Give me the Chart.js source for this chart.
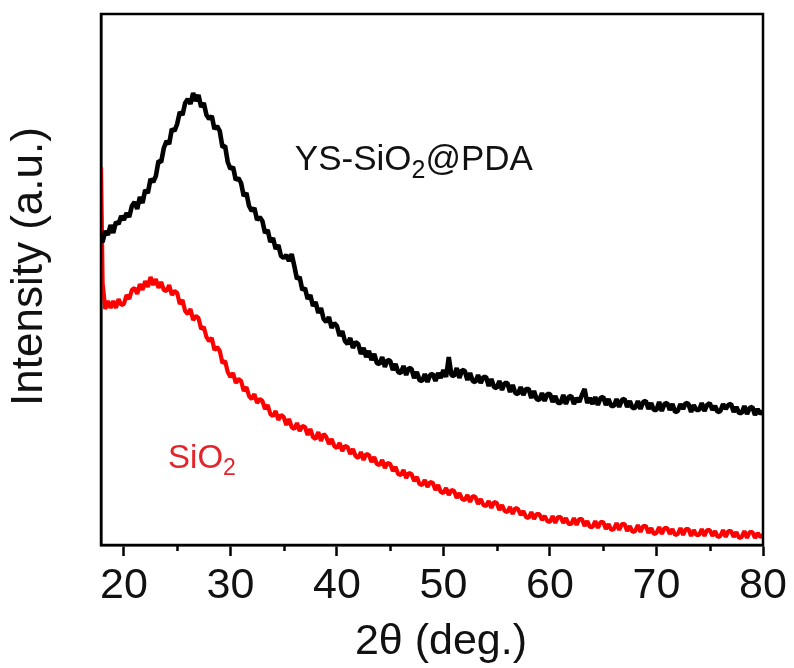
<!DOCTYPE html>
<html>
<head>
<meta charset="utf-8">
<script src="https://cdn.jsdelivr.net/npm/chart.js@4.4.1/dist/chart.umd.min.js"></script>
<style>
  html, body { margin: 0; padding: 0; background: #ffffff; }
  #wrap { width: 794px; height: 668px; }
</style>
</head>
<body>
<div id="wrap"><canvas id="xrd" width="794" height="668"></canvas></div>
<script>
// XRD scan grid: first recorded angle, then 0.25° steps from 18° to 80°
const scanStart = 17.85;
const scanFrom = 18;
const scanStep = 0.25;
const scanCount = 249;
const twoTheta = [scanStart].concat(Array.from({ length: scanCount }, (_, i) => scanFrom + i * scanStep));

// Intensity (a.u.) of the PDA-coated yolk–shell silica, one row per degree (x.00, x.25, x.50, x.75)
const ysSiO2PDA = [
  305,
  303, 314, 310, 320,   // 18
  312, 323, 321, 329,   // 19
  325, 332, 328, 339,   // 20
  343, 336, 348, 342,   // 21
  355, 352, 366, 363,   // 22
  369, 384, 383, 397,   // 23
  404, 401, 416, 414,   // 24
  421, 433, 430, 442,   // 25
  446, 441, 452, 444,   // 26
  450, 438, 442, 430,   // 27
  426, 429, 416, 419,   // 28
  414, 398, 399, 383,   // 29
  376, 378, 365, 367,   // 30
  362, 349, 352, 339,   // 31
  334, 337, 325, 328,   // 32
  324, 312, 315, 303,   // 33
  307, 296, 300, 289,   // 34
  287, 290, 284, 291,   // 35
  279, 266, 268, 255,   // 36
  257, 246, 250, 239,   // 37
  243, 232, 237, 226,   // 38
  223, 228, 217, 222,   // 39
  219, 209, 214, 204,   // 40
  201, 207, 197, 203,   // 41
  201, 191, 197, 188,   // 42
  194, 185, 191, 182,   // 43
  181, 188, 178, 185,   // 44
  184, 175, 181, 173,   // 45
  172, 179, 170, 177,   // 46
  176, 167, 173, 165,   // 47
  164, 171, 163, 170,   // 48
  171, 164, 172, 167,   // 49
  175, 168, 188, 170,   // 50
  169, 177, 167, 175,   // 51
  174, 165, 172, 164,   // 52
  163, 170, 162, 168,   // 53
  168, 159, 166, 158,   // 54
  157, 164, 155, 162,   // 55
  162, 153, 160, 152,   // 56
  151, 158, 150, 156,   // 57
  156, 147, 154, 146,   // 58
  145, 152, 144, 151,   // 59
  151, 143, 149, 142,   // 60
  142, 150, 141, 148,   // 61
  149, 141, 147, 143,   // 62
  150, 156, 142, 147,   // 63
  141, 148, 140, 147,   // 64
  148, 140, 146, 139,   // 65
  139, 146, 138, 145,   // 66
  146, 138, 144, 137,   // 67
  137, 144, 136, 143,   // 68
  144, 136, 142, 135,   // 69
  135, 143, 134, 141,   // 70
  142, 135, 141, 133,   // 71
  134, 141, 136, 142,   // 72
  141, 133, 140, 135,   // 73
  135, 142, 134, 140,   // 74
  142, 135, 139, 133,   // 75
  134, 141, 136, 140,   // 76
  141, 133, 138, 132,   // 77
  132, 139, 131, 137,   // 78
  138, 130, 136, 131,   // 79
  134                   // 80
];

// Intensity (a.u.) of the bare silica, same grid
const siO2 = [
  378,
  262, 236, 244, 237,   // 18
  244, 237, 246, 240,   // 19
  241, 250, 246, 255,   // 20
  257, 251, 261, 255,   // 21
  264, 258, 268, 260,   // 22
  266, 257, 263, 255,   // 23
  254, 260, 250, 254,   // 24
  252, 241, 245, 234,   // 25
  231, 236, 225, 229,   // 26
  227, 216, 218, 208,   // 27
  204, 207, 195, 198,   // 28
  194, 182, 184, 173,   // 29
  168, 172, 162, 166,   // 30
  164, 154, 158, 149,   // 31
  146, 151, 142, 146,   // 32
  144, 136, 140, 131,   // 33
  129, 134, 125, 130,   // 34
  128, 120, 126, 118,   // 35
  116, 122, 114, 119,   // 36
  118, 110, 116, 108,   // 37
  106, 113, 104, 111,   // 38
  108, 101, 106, 99,    // 39
  97, 102, 94, 99,      // 40
  98, 91, 96, 89,       // 41
  87, 93, 85, 91,       // 42
  90, 83, 88, 81,       // 43
  80, 85, 77, 82,       // 44
  81, 74, 78, 71,       // 45
  70, 75, 67, 72,       // 46
  71, 64, 68, 61,       // 47
  60, 65, 58, 63,       // 48
  62, 55, 60, 53,       // 49
  52, 57, 50, 55,       // 50
  54, 47, 52, 46,       // 51
  45, 50, 43, 49,       // 52
  48, 41, 46, 40,       // 53
  39, 44, 37, 43,       // 54
  42, 35, 40, 34,       // 55
  33, 38, 31, 37,       // 56
  36, 30, 34, 28,       // 57
  27, 33, 26, 31,       // 58
  31, 25, 29, 24,       // 59
  23, 29, 22, 28,       // 60
  28, 22, 27, 21,       // 61
  21, 27, 20, 26,       // 62
  26, 19, 24, 18,       // 63
  18, 24, 17, 23,       // 64
  23, 16, 21, 15,       // 65
  16, 22, 15, 21,       // 66
  21, 14, 19, 13,       // 67
  14, 20, 13, 19,       // 68
  19, 12, 17, 11,       // 69
  12, 18, 11, 17,       // 70
  17, 11, 16, 10,       // 71
  11, 17, 10, 16,       // 72
  16, 9, 15, 10,        // 73
  10, 16, 9, 15,        // 74
  15, 9, 14, 8,         // 75
  9, 15, 8, 14,         // 76
  14, 8, 13, 7,         // 77
  8, 14, 7, 13,         // 78
  13, 7, 12, 8,         // 79
  10                    // 80
];

const seriesNames = ['YS-SiO2@PDA', 'SiO2'];
const xTicksMajor = [20, 30, 40, 50, 60, 70, 80];
const xTicksMinor = [25, 35, 45, 55, 65, 75];
const xTitle = '2θ (deg.)';
const yTitle = 'Intensity (a.u.)';

const FONT = '"Liberation Sans", Arial, Helvetica, sans-serif';

const toPoints = (ys) => ys.map((y, i) => ({ x: twoTheta[i], y }));

// In-plot sample labels with subscripts, anchored in data coordinates
const sampleLabels = [
  { parts: [['YS-SiO', 0], ['2', 1], ['@PDA', 0]], x: 36.05, y: 375, size: 35, color: '#111111' },
  { parts: [['SiO', 0], ['2', 1]], x: 24.15, y: 77, size: 33, color: '#e3242b' }
];

const framePlugin = {
  id: 'frameAndLabels',
  afterDraw(chart) {
    const { ctx, chartArea: a, scales } = chart;
    const xs = scales.x, ys = scales.y;
    ctx.save();
    // minor ticks on the 2θ axis
    ctx.strokeStyle = '#000';
    ctx.lineWidth = 2.5;
    ctx.beginPath();
    xTicksMinor.forEach(v => {
      const px = Math.round(xs.getPixelForValue(v)) + 0.5;
      ctx.moveTo(px, a.bottom);
      ctx.lineTo(px, a.bottom + 6);
    });
    ctx.stroke();
    // closed frame
    ctx.lineWidth = 2.5;
    ctx.strokeRect(a.left, a.top, a.right - a.left, a.bottom - a.top);

    // axis titles
    ctx.fillStyle = '#111111';
    ctx.textAlign = 'center';
    ctx.textBaseline = 'middle';
    ctx.font = '43px ' + FONT;
    ctx.fillText(xTitle, (a.left + a.right) / 2 + 9, 642);
    ctx.save();
    ctx.translate(30, (a.top + a.bottom) / 2 - 13);
    ctx.rotate(-Math.PI / 2);
    ctx.font = '44px ' + FONT;
    ctx.fillText(yTitle, 0, 0);
    ctx.restore();

    // sample labels
    ctx.textBaseline = 'alphabetic';
    ctx.textAlign = 'left';
    sampleLabels.forEach(lab => {
      let px = xs.getPixelForValue(lab.x);
      const py = ys.getPixelForValue(lab.y);
      ctx.fillStyle = lab.color;
      lab.parts.forEach(([txt, sub]) => {
        const size = sub ? Math.round(lab.size * 0.7) : lab.size;
        ctx.font = size + 'px ' + FONT;
        ctx.fillText(txt, px, py + (sub ? lab.size * 0.22 : 0));
        px += ctx.measureText(txt).width;
      });
    });
    ctx.restore();
  }
};

new Chart(document.getElementById('xrd'), {
  type: 'line',
  data: {
    datasets: [
      {
        label: seriesNames[0],
        data: toPoints(ysSiO2PDA),
        borderColor: '#000000',
        borderWidth: 4.6,
        borderJoinStyle: 'bevel',
        pointRadius: 0,
        tension: 0,
        fill: false
      },
      {
        label: seriesNames[1],
        data: toPoints(siO2),
        borderColor: '#ff0000',
        borderWidth: 4.2,
        borderJoinStyle: 'bevel',
        pointRadius: 0,
        tension: 0,
        fill: false
      }
    ]
  },
  options: {
    responsive: false,
    animation: false,
    devicePixelRatio: 1,
    layout: { padding: { top: 14, right: 31, left: 0, bottom: 0 } },
    plugins: {
      legend: { display: false },
      tooltip: { enabled: false }
    },
    scales: {
      x: {
        type: 'linear',
        min: 17.85,
        max: 80,
        afterFit(scale) { scale.height = 123; scale.paddingLeft = 0; scale.paddingRight = 0; },
        afterBuildTicks(scale) { scale.ticks = xTicksMajor.map(v => ({ value: v })); },
        ticks: {
          includeBounds: false,
          autoSkip: false,
          maxRotation: 0,
          padding: 4,
          color: '#111111',
          font: { family: FONT, size: 43 },
          callback: (v) => String(v)
        },
        grid: {
          drawOnChartArea: false,
          drawTicks: true,
          tickLength: 11,
          tickWidth: 2.5,
          tickColor: '#000000'
        },
        border: { display: true, color: '#000000', width: 2.5 },
        title: { display: false, text: xTitle }
      },
      y: {
        type: 'linear',
        min: 0,
        max: 531,
        afterFit(scale) { scale.width = 101; },
        ticks: { display: false },
        grid: { display: false, drawTicks: false },
        border: { display: true, color: '#000000', width: 2.5 },
        title: { display: false, text: yTitle }
      }
    }
  },
  plugins: [framePlugin]
});
</script>
</body>
</html>
